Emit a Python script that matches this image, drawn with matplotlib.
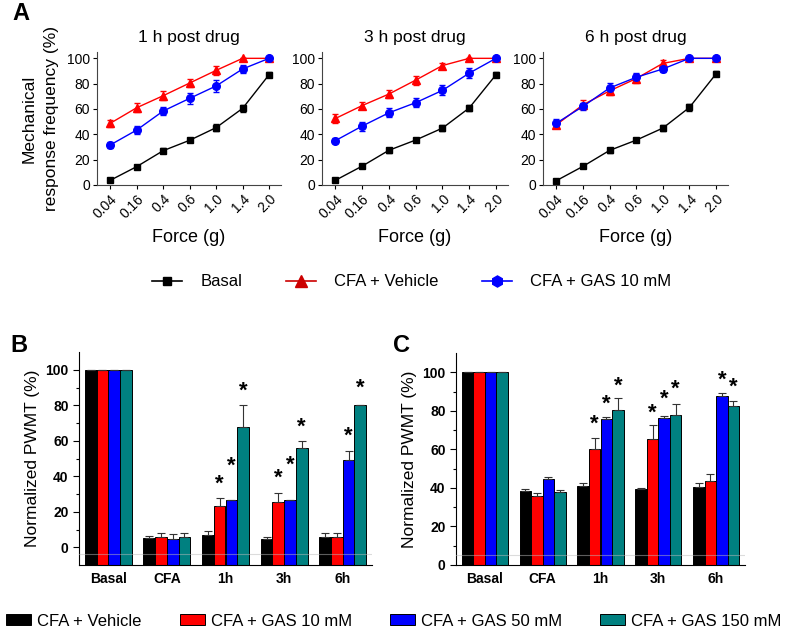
import numpy as np
import matplotlib
matplotlib.use('Agg')
import matplotlib.pyplot as plt
from matplotlib.lines import Line2D
from matplotlib.patches import Patch

plt.rcParams['font.family'] = ['Liberation Sans', 'DejaVu Sans']

# ---- panel A data: response frequency (%) vs force ----
forces = ['0.04', '0.16', '0.4', '0.6', '1.0', '1.4', '2.0']
titles = ['1 h post drug', '3 h post drug', '6 h post drug']

basal = [[3.7, 14.5, 27.1, 35.3, 45.3, 60.5, 87.1],
         [3.7, 14.9, 27.4, 35.5, 44.9, 60.8, 87.0],
         [3.4, 14.7, 27.3, 35.4, 44.9, 61.2, 87.7]]
basal_err = [1.5, 1.2, 1.8, 1.5, 2.5, 2.5, 2.0]

vehicle = [[48.7, 61.0, 70.5, 80.5, 90.5, 100, 100],
           [52.5, 62.7, 71.8, 82.8, 94.3, 100, 100],
           [47.5, 63.3, 74.3, 84.0, 96.0, 100, 100]]
vehicle_err = [[3.0, 3.5, 3.5, 3.5, 3.5, 0, 0],
               [3.5, 3.0, 3.0, 3.5, 2.0, 0, 0],
               [2.5, 3.5, 3.5, 3.5, 2.5, 0, 0]]

gas10 = [[31.6, 43.4, 58.4, 68.4, 78.2, 91.6, 100],
         [35.0, 46.5, 57.0, 65.0, 74.7, 88.3, 100],
         [48.8, 62.0, 76.6, 85.0, 91.6, 100, 100]]
gas10_err = [[2.5, 3.0, 3.5, 4.5, 5.0, 3.0, 0],
             [2.0, 3.5, 3.5, 3.5, 4.0, 4.0, 0],
             [3.0, 2.5, 4.0, 3.5, 2.5, 0, 0]]

# ---- panels B / C data: normalized PWMT (%) ----
groups = ['Basal', 'CFA', '1h', '3h', '6h']
bar_labels = ['CFA + Vehicle', 'CFA + GAS 10 mM', 'CFA + GAS 50 mM', 'CFA + GAS 150 mM']
bar_colors = ['#000000', '#ff0000', '#0000ff', '#008080']

b_means = [[100, 5.0, 6.7, 4.5, 6.0],
           [100, 6.0, 23.0, 25.3, 6.0],
           [100, 4.5, 26.5, 26.5, 49.3],
           [100, 6.0, 68.0, 56.0, 80.0]]
b_errs = [[0, 1.5, 2.5, 1.5, 2.0],
          [0, 1.8, 5.0, 5.5, 2.0],
          [0, 3.0, 0, 0, 5.0],
          [0, 2.0, 12.0, 3.8, 0]]
# heights of significance stars (None = no star)
b_stars = [[None, None, None, None, None],
           [None, None, 35.4, 39.0, None],
           [None, None, 45.4, 46.0, 62.7],
           [None, None, 87.8, 67.8, 89.8]]

c_means = [[100, 38.5, 41.0, 39.2, 40.5],
           [100, 36.0, 60.2, 65.6, 43.8],
           [100, 44.5, 75.8, 76.5, 87.8],
           [100, 37.8, 80.5, 78.0, 82.5]]
c_errs = [[0, 0.7, 1.3, 0.5, 1.8],
          [0, 1.5, 5.8, 7.3, 3.5],
          [0, 1.2, 1.0, 0.7, 1.3],
          [0, 1.2, 6.0, 5.5, 2.8]]
c_stars = [[None, None, None, None, None],
           [None, None, 72.8, 78.9, None],
           [None, None, 83.6, 86.2, 95.7],
           [None, None, 92.7, 91.4, 92.2]]

fig = plt.figure(figsize=(7.87, 6.27), dpi=100)
W, H = 787.0, 627.0

def px_axes(left, top, right, bottom):
    return fig.add_axes([left / W, 1 - bottom / H, (right - left) / W, (bottom - top) / H])

# ---- panel A ----
a_pos = [(97, 52, 281, 185), (322, 52, 508, 185), (543, 52, 728, 185)]
x = np.arange(len(forces))
for i, pos in enumerate(a_pos):
    ax = px_axes(*pos)
    ax.errorbar(x, basal[i], yerr=basal_err, color='black', marker='s', ms=5,
                lw=1, elinewidth=1, capsize=2)
    ax.errorbar(x, vehicle[i], yerr=vehicle_err[i], color='#ff0000', marker='^', ms=6,
                lw=1, elinewidth=1, capsize=2)
    ax.errorbar(x, gas10[i], yerr=gas10_err[i], color='#0000ff', marker='o', ms=5.5,
                lw=1, elinewidth=1, capsize=2)
    ax.set_xlim(-0.5, 6.45)
    ax.set_ylim(0, 105)
    ax.set_yticks([0, 20, 40, 60, 80, 100])
    ax.set_xticks(x)
    ax.set_xticklabels(forces, rotation=45, ha='right', rotation_mode='anchor')
    ax.tick_params(labelsize=10, length=3, width=0.8, pad=2)
    ax.spines['top'].set_visible(False)
    ax.spines['right'].set_visible(False)
    for s in ['left', 'bottom']:
        ax.spines[s].set_linewidth(0.8)
        ax.spines[s].set_color('#444444')
    ax.set_title(titles[i], fontsize=12.5, pad=7)
    ax.set_xlabel('Force (g)', fontsize=13, labelpad=6)
    if i == 0:
        ax.set_ylabel('Mechanical\nresponse frequency (%)', fontsize=12.5,
                      labelpad=6, linespacing=1.55)

leg_a = [Line2D([], [], color='black', marker='s', ms=6, lw=1.2),
         Line2D([], [], color='#cc0000', marker='^', ms=9, lw=1.2),
         Line2D([], [], color='#0000ff', marker='h', ms=8, lw=1.2)]
fig.legend(leg_a, ['Basal', 'CFA + Vehicle', 'CFA + GAS 10 mM'], ncol=3,
           loc='center', bbox_to_anchor=(412 / W, 1 - 282 / H), frameon=False,
           fontsize=12, handlelength=1.8, handletextpad=1.1, columnspacing=2.6)

# ---- panels B and C ----
def bar_panel(ax, means, errs, stars, ylo, faint):
    xg = np.arange(len(groups))
    width = 0.2
    offsets = [-0.3, -0.1, 0.1, 0.3]
    for k in range(4):
        m = np.array(means[k], dtype=float)
        ax.bar(xg + offsets[k], m - ylo, width, bottom=ylo, color=bar_colors[k],
               edgecolor='black', linewidth=0.7, zorder=2)
        ax.errorbar(xg + offsets[k], m, yerr=[np.zeros(len(m)), errs[k]], fmt='none',
                    ecolor='#333333', elinewidth=0.8, capsize=3, capthick=0.8, zorder=3)
        for g, s in enumerate(stars[k]):
            if s is not None:
                ax.text(xg[g] + offsets[k], s, '*', ha='center', va='center',
                        fontsize=16, fontweight='bold', zorder=4)
    ax.axhline(faint, color='#bbbbbb', lw=0.8, alpha=0.5, zorder=5)
    ax.set_xlim(-0.5, 4.5)
    ax.set_ylim(ylo, 110)
    ax.set_yticks([0, 20, 40, 60, 80, 100])
    ax.set_yticks(np.arange(10, 110, 20), minor=True)
    ax.set_xticks(xg)
    ax.set_xticklabels(groups, fontweight='bold')
    ax.tick_params(axis='y', labelsize=10, length=4, width=0.8)
    ax.tick_params(axis='y', which='minor', length=2.5, width=0.8)
    ax.tick_params(axis='x', labelsize=10, length=0, pad=5)
    for t in ax.get_yticklabels():
        t.set_fontweight('bold')
    ax.spines['top'].set_visible(False)
    ax.spines['right'].set_visible(False)
    ax.set_ylabel('Normalized PWMT (%)', fontsize=12.5)

ax_b = px_axes(79, 352, 372, 565)
bar_panel(ax_b, b_means, b_errs, b_stars, -10, -4)
ax_c = px_axes(456, 353, 745, 565)
bar_panel(ax_c, c_means, c_errs, c_stars, 0, 5)

leg_b = [Patch(facecolor=c, edgecolor='black', linewidth=0.7) for c in bar_colors]
fig.legend(leg_b, bar_labels, ncol=4, loc='center', bbox_to_anchor=(394 / W, 1 - 621 / H),
           frameon=False, fontsize=12, handlelength=1.5, handleheight=0.6,
           handletextpad=0.35, columnspacing=2.3, borderaxespad=0, borderpad=0)

# panel letters
fig.text(12 / W, 1 - 13 / H, 'A', fontsize=17, fontweight='bold', va='center')
fig.text(10 / W, 1 - 345 / H, 'B', fontsize=17, fontweight='bold', va='center')
fig.text(393 / W, 1 - 345 / H, 'C', fontsize=17, fontweight='bold', va='center')

fig.savefig('out.png', dpi=100)
